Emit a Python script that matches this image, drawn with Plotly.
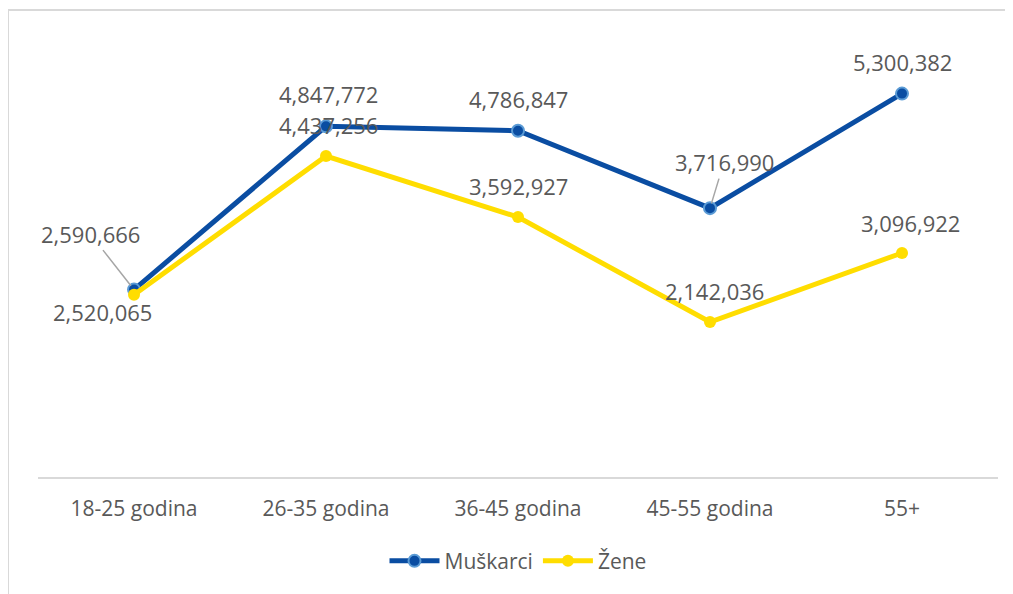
import plotly.graph_objects as go

categories = ["18-25 godina", "26-35 godina", "36-45 godina", "45-55 godina", "55+"]
muskarci = [2590666, 4847772, 4786847, 3716990, 5300382]
zene = [2520065, 4437256, 3592927, 2142036, 3096922]

# label offsets (px) and whether a leader line is shown
m_offsets = [(-44, -56, True), (2, -32, False), (0, -32, False), (14, -46, True), (0, -32, False)]
z_offsets = [(-32, 17, False), (2, -31, False), (0, -31, False), (4, -31, False), (8, -30, False)]

BLUE = "#0A4DA2"
BLUE_LIGHT = "#5B9BD5"
YELLOW = "#FFDD00"
TXT = "#595959"
FONT = "Open Sans"

xs = list(range(len(categories)))

W, H = 1005, 586
L, T = 30, 35
PW, PH = 960, 434

fig = go.Figure()
fig.add_trace(go.Scatter(
    x=xs, y=muskarci, name="Muškarci", mode="lines+markers",
    line=dict(color=BLUE, width=5),
    marker=dict(size=12, color=BLUE, line=dict(color=BLUE_LIGHT, width=2)),
))
fig.add_trace(go.Scatter(
    x=xs, y=zene, name="Žene", mode="lines+markers",
    line=dict(color=YELLOW, width=5),
    marker=dict(size=12, color=YELLOW),
))

annotations = []
for series, offs in ((muskarci, m_offsets), (zene, z_offsets)):
    for i, v in enumerate(series):
        ax, ay, leader = offs[i]
        annotations.append(dict(
            x=xs[i], y=v, xref="x", yref="y",
            text=f"{v:,}", showarrow=True, ax=ax, ay=ay,
            arrowhead=0, arrowwidth=1.5, standoff=5,
            arrowcolor="#A6A6A6" if leader else "rgba(0,0,0,0)",
            font=dict(family=FONT, size=22, color=TXT),
        ))

fig.update_layout(
    width=W, height=H,
    margin=dict(l=L, r=W - L - PW, t=T, b=H - T - PH),
    paper_bgcolor="white", plot_bgcolor="white",
    font=dict(family=FONT, color=TXT),
    showlegend=True,
    legend=dict(orientation="h", x=0.5, xanchor="center", y=-0.194, yanchor="middle",
                font=dict(family=FONT, size=21, color=TXT), itemwidth=50),
    annotations=annotations,
    xaxis=dict(
        tickmode="array", tickvals=xs, ticktext=categories,
        range=[-0.5, 4.5], showgrid=False, zeroline=False,
        showline=True, linecolor="#D9D9D9", linewidth=2,
        ticks="", ticklabelstandoff=12,
        tickfont=dict(family=FONT, size=21, color=TXT),
        fixedrange=True,
    ),
    yaxis=dict(range=[0, 6000000], showgrid=False, zeroline=False,
               showticklabels=False, showline=False, fixedrange=True),
    shapes=[dict(type="rect", xref="paper", yref="paper",
                 x0=(0 - L) / PW, x1=(W + 40 - L) / PW,
                 y0=-(H + 40 - T - PH) / PH, y1=(PH + T - 2) / PH,
                 line=dict(color="#D9D9D9", width=2), layer="below")],
)

fig.write_html("out.html")
